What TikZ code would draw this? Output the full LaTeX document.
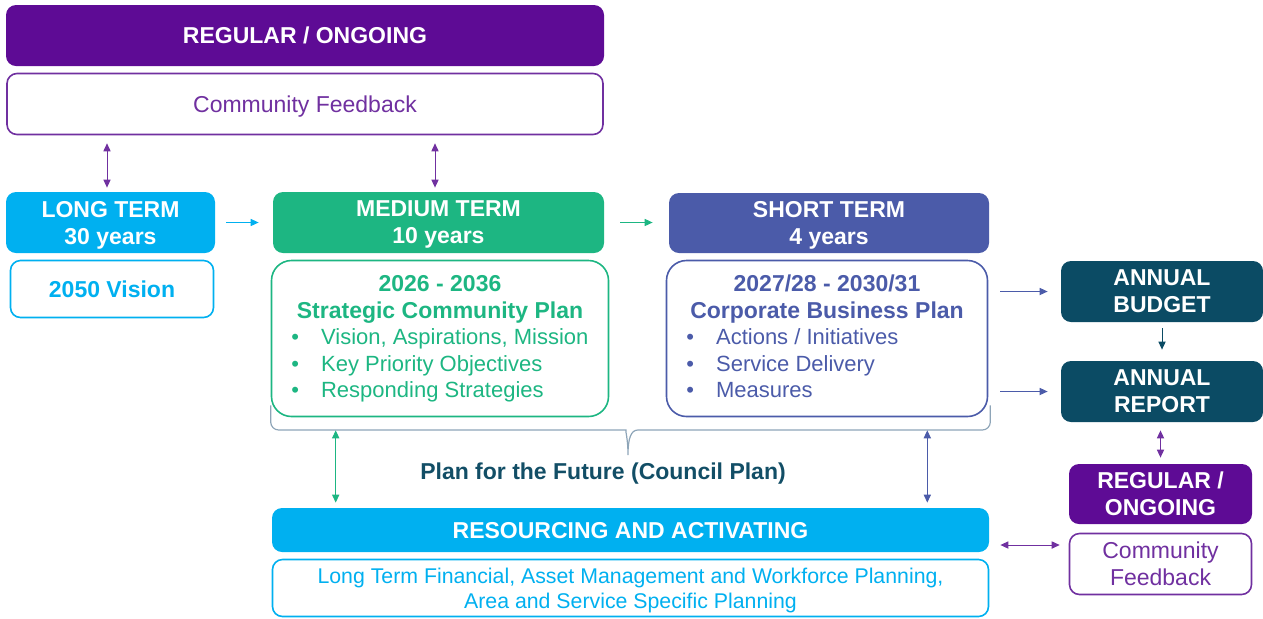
\documentclass[tikz,border=0pt]{standalone}
\usepackage{fontspec}
\setmainfont{Liberation Sans}
\usepackage{xcolor}
\usetikzlibrary{arrows.meta}

\definecolor{ongoing}{HTML}{5E0B95}
\definecolor{feedback}{HTML}{7030A0}
\definecolor{longcol}{HTML}{00B0F0}
\definecolor{medcol}{HTML}{1DB682}
\definecolor{shortcol}{HTML}{4B5BA9}
\definecolor{annualcol}{HTML}{0B4B64}
\definecolor{bracecol}{HTML}{8EA5B8}
\definecolor{plancol}{HTML}{124E66}

\tikzset{
  headbox/.style={fill=#1, rounded corners=5pt, text=white, align=center, inner sep=0pt,
    text depth=0pt, font=\bfseries\fontsize{11.5}{13.5}\selectfont},
  outbox/.style={draw=#1, line width=0.8pt, fill=white, rounded corners=5pt, text=#1,
    align=center, inner sep=0pt, text depth=0pt, font=\fontsize{11.5}{13.5}\selectfont},
  planbox/.style={draw=#1, line width=0.8pt, rounded corners=10pt, inner sep=0pt},
  plantitle/.style={text=#1, align=center, inner sep=0pt, font=\bfseries\fontsize{11.5}{13.5}\selectfont},
  planlist/.style={text=#1, inner sep=0pt, anchor=west, font=\fontsize{11}{13.3}\selectfont},
  linkarrow/.style={draw=#1, line width=0.5pt, -{Triangle[length=4pt,width=3.6pt]}},
  bothways/.style={draw=#1, line width=0.5pt,
    {Triangle[length=4pt,width=3.6pt]}-{Triangle[length=4pt,width=3.6pt]}},
}

\begin{document}
\begin{tikzpicture}[x=0.5pt,y=-0.5pt]
  \useasboundingbox (0,0) rectangle (1263,618);

  % feedback at the top
  \node[headbox=ongoing, minimum width=299pt, minimum height=30.5pt] (topreg) at (305,35.5) {REGULAR / ONGOING};
  \node[outbox=feedback, minimum width=298pt, minimum height=30.5pt] (topfb) at (305,104) {Community Feedback};

  % the three terms
  \node[headbox=longcol, minimum width=104.5pt, minimum height=30.5pt] (longterm) at (110.5,222.5) {LONG TERM\\30 years};
  \node[outbox=longcol, minimum width=101.5pt, minimum height=28.5pt, font=\bfseries\fontsize{11.5}{13.5}\selectfont] (vision) at (112,289) {2050 Vision};

  \node[headbox=medcol, minimum width=165.5pt, minimum height=30.5pt] (medterm) at (438.5,222.5) {MEDIUM TERM\\10 years};
  \node[planbox=medcol, minimum width=168.5pt, minimum height=78pt] (scp) at (440,338.5) {};
  \node[plantitle=medcol] (scptitle) at (440,299.5) {2026 - 2036\\Strategic Community Plan};
  \node[planlist=medcol] (scplist) at (291,366) {\begin{tabular}{@{}l@{\hspace{11pt}}l@{}}
    \textbullet & Vision, Aspirations, Mission\\
    \textbullet & Key Priority Objectives\\
    \textbullet & Responding Strategies
  \end{tabular}};

  \node[headbox=shortcol, minimum width=160pt, minimum height=30pt] (shortterm) at (829,223) {SHORT TERM\\4 years};
  \node[planbox=shortcol, minimum width=160.5pt, minimum height=78pt] (cbp) at (827,338.5) {};
  \node[plantitle=shortcol] (cbptitle) at (827,299.5) {2027/28 - 2030/31\\Corporate Business Plan};
  \node[planlist=shortcol] (cbplist) at (686,366) {\begin{tabular}{@{}l@{\hspace{11pt}}l@{}}
    \textbullet & Actions / Initiatives\\
    \textbullet & Service Delivery\\
    \textbullet & Measures
  \end{tabular}};

  % annual cycle on the right
  \node[headbox=annualcol, minimum width=101pt, minimum height=30.5pt] (budget) at (1162,291.5) {ANNUAL\\BUDGET};
  \node[headbox=annualcol, minimum width=101pt, minimum height=30.5pt] (report) at (1162,391.5) {ANNUAL\\REPORT};
  \node[headbox=ongoing, minimum width=91.5pt, minimum height=30pt] (sidereg) at (1160.5,494) {REGULAR /\\ONGOING};
  \node[outbox=feedback, minimum width=91pt, minimum height=30.5pt] (sidefb) at (1160.5,564) {Community\\Feedback};

  % resourcing
  \node[headbox=longcol, minimum width=358.5pt, minimum height=22pt] (resourcing) at (630.5,530) {RESOURCING AND ACTIVATING};
  \node[outbox=longcol, minimum width=358pt, minimum height=28.5pt, font=\fontsize{10.65}{12.5}\selectfont] (planning) at (630.5,588)
    {Long Term Financial, Asset Management and Workforce Planning,\\Area and Service Specific Planning};

  % brace and its label
  \coordinate (braceL) at ([yshift=6pt]scp.south west);
  \coordinate (braceR) at ([xshift=1pt,yshift=6pt]cbp.south east);
  \draw[bracecol, line width=0.6pt]
    [rounded corners=4pt] (braceL) |- (618,430)
    [sharp corners] .. controls (625,430) and (628,438) .. (628,455)
    .. controls (628,438) and (631,430) .. (638,430)
    [rounded corners=4pt] -| (braceR);
  \node[text=plancol, inner sep=0pt, text depth=0pt, font=\bfseries\fontsize{11.5}{13.5}\selectfont] (planlabel) at (603,471) {Plan for the Future (Council Plan)};

  % connectors
  \coordinate (ltfb) at ([xshift=-1.75pt]longterm.north);
  \coordinate (mtfb) at ([xshift=-1.75pt]medterm.north);
  \draw[bothways=feedback, shorten <=4pt, shorten >=2pt] (topfb.south -| ltfb) -- (ltfb);
  \draw[bothways=feedback, shorten <=4pt, shorten >=2pt] (topfb.south -| mtfb) -- (mtfb);
  \draw[linkarrow=longcol, shorten <=5.5pt, shorten >=7pt] (longterm.east) -- (longterm.east -| medterm.west);
  \draw[linkarrow=medcol, shorten <=8pt, shorten >=8pt] (medterm.east) -- (medterm.east -| shortterm.west);
  \draw[linkarrow=shortcol, shorten <=6pt, shorten >=6.5pt] (cbp.east |- budget.west) -- (budget.west);
  \draw[linkarrow=shortcol, shorten <=6pt, shorten >=6.5pt] (cbp.east |- report.west) -- (report.west);
  \draw[linkarrow=annualcol, shorten <=3pt, shorten >=5.5pt] (budget.south) -- (report.north);
  \draw[bothways=feedback, shorten <=4pt, shorten >=3pt] (sidereg.north |- report.south) -- (sidereg.north);
  \draw[bothways=feedback, shorten <=5.5pt, shorten >=4.5pt]
    ([yshift=-7.5pt]resourcing.east) -- ([yshift=-7.5pt]resourcing.east -| sidefb.west);

  \coordinate (scpdrop) at ([xshift=32.5pt,yshift=-6.5pt]scp.south west);
  \coordinate (cbpdrop) at ([xshift=-30.5pt,yshift=-6.5pt]cbp.south east);
  \draw[bothways=medcol, shorten >=2.5pt] (scpdrop) -- (scpdrop |- resourcing.north);
  \draw[bothways=shortcol, shorten >=2.5pt] (cbpdrop) -- (cbpdrop |- resourcing.north);
\end{tikzpicture}
\end{document}
